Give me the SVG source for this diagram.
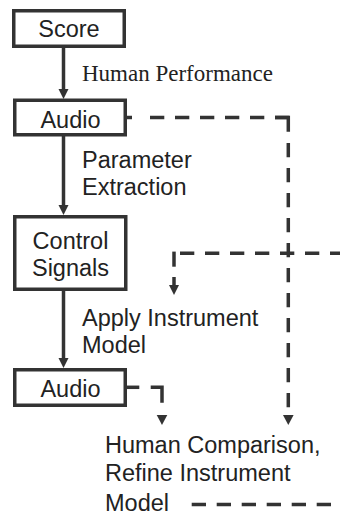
<svg xmlns="http://www.w3.org/2000/svg" width="340" height="514" viewBox="0 0 340 514">
<style>
.box{fill:#fff;stroke:#333;stroke-width:3.5}
.lbl{font-family:"Liberation Sans",Arial,sans-serif;font-size:23.5px;fill:#222}
.ser{font-family:"Liberation Serif","Times New Roman",serif;font-size:23px;fill:#222}
.mid{text-anchor:middle}
.ln{stroke:#333;stroke-width:3.5;fill:none}
.dash{stroke:#333;stroke-width:3.5;fill:none;stroke-dasharray:14.3 10.7}
.head{fill:#333}
</style>
<rect width="340" height="514" fill="#fff"/>
<g id="connectors">
<line class="ln" x1="63.5" y1="48" x2="63.5" y2="90"/>
<polygon class="head" points="58.5,89 68.5,89 63.5,99"/>
<line class="ln" x1="63.5" y1="136" x2="63.5" y2="206"/>
<polygon class="head" points="58.5,205 68.5,205 63.5,215"/>
<line class="ln" x1="63.5" y1="291" x2="63.5" y2="359"/>
<polygon class="head" points="58.5,358 68.5,358 63.5,368"/>
<line class="ln" x1="126" y1="117.5" x2="132" y2="117.5"/>
<path class="dash" d="M150,117.5 H290"/>
<path class="ln" d="M275,117.5 H288.3 V131.7"/>
<path class="dash" d="M288.3,143 V410"/>
<polygon class="head" points="283,415 293.6,415 288.3,425"/>
<path class="dash" d="M180,253.3 H345"/>
<line class="ln" x1="174" y1="251.6" x2="174" y2="266.7"/>
<line class="ln" x1="174" y1="277" x2="174" y2="286"/>
<polygon class="head" points="169,285 179,285 174,295"/>
<line class="ln" x1="126" y1="387.3" x2="139.3" y2="387.3"/>
<path class="ln" d="M150.7,387.3 H162 V402.7"/>
<polygon class="head" points="156.7,415 167.3,415 162,425"/>
<path class="dash" d="M191.7,504.5 H335"/>
</g>
<g id="score"><rect class="box" x="13.75" y="10.75" width="110.5" height="35.5"/><text class="lbl mid" x="69" y="37">Score</text></g>
<g id="audio1"><rect class="box" x="14.75" y="100.25" width="110.5" height="34.5"/><text class="lbl mid" x="70.5" y="128">Audio</text></g>
<g id="control"><rect class="box" x="14.75" y="216.75" width="111" height="72.5"/><text class="lbl mid" x="70.5" y="249">Control</text><text class="lbl mid" x="70.5" y="276">Signals</text></g>
<g id="audio2"><rect class="box" x="14.75" y="369.75" width="110.5" height="35.5"/><text class="lbl mid" x="70.5" y="396.5">Audio</text></g>
<g id="labels">
<text class="ser" x="82" y="80.7">Human Performance</text>
<text class="lbl" x="82" y="168.3">Parameter</text>
<text class="lbl" x="82" y="195">Extraction</text>
<text class="lbl" x="82" y="326">Apply Instrument</text>
<text class="lbl" x="82" y="353">Model</text>
<text class="lbl" x="105" y="453.3">Human Comparison,</text>
<text class="lbl" x="105" y="480.7">Refine Instrument</text>
<text class="lbl" x="105" y="510.5">Model</text>
</g>
</svg>
